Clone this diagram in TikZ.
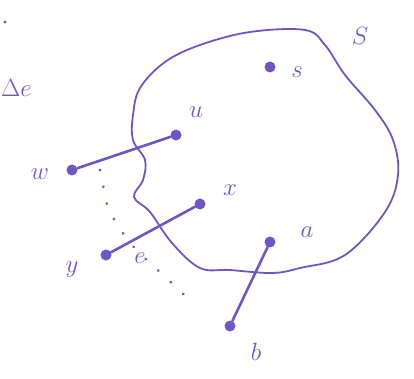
\documentclass[tikz,border=0pt]{standalone}
\begin{document}
\begin{tikzpicture}[x=1pt,y=-1pt,
  vtx/.style={circle,fill=pen,inner sep=0pt,minimum size=11pt},
  lbl/.style={text=pen,font=\fontsize{34}{36}\selectfont,inner sep=0pt},
  edge/.style={draw=pen,line width=2.6pt,line cap=round},
  boundary/.style={draw=pen,line width=1.8pt},
  trace/.style={draw=pen,line width=3pt,line cap=round,dash pattern=on 0.1pt off 17pt}]
\definecolor{pen}{RGB}{112,86,196}
\useasboundingbox (0,0) rectangle (414,379);
% region S
\draw[boundary] plot[smooth cycle,tension=0.6] coordinates {
 (140,88) (165,62) (200,45) (250,32) (305,30) (325,45) (345,75) (375,110)
 (393,140) (398,175) (385,212) (345,255) (300,268) (272,273) (230,270)
 (200,268) (172,243) (150,212) (134,197) (143,180) (145,160) (133,140) (133,115)};
% dotted trace
\draw[trace] plot[smooth,tension=0.6] coordinates {(100,170) (104,190) (110,212) (132,245) (162,274) (192,302)};
% vertices
\node[vtx] (s) at (270,67) {};
\node[vtx] (u) at (176,135) {};
\node[vtx] (w) at (72,170) {};
\node[vtx] (x) at (200,204) {};
\node[vtx] (y) at (106,255) {};
\node[vtx] (a) at (270,242) {};
\node[vtx] (b) at (230,326) {};
% edges
\draw[edge] (w) -- (u);
\draw[edge] (y) -- (x);
\draw[edge] (a) -- (b);
% labels
\node[lbl] (e) at (140,258) {$e$};
\node[lbl] (Sl) at (360,36) {$S$};
\node[lbl] (sl) at (297,72) {$s$};
\node[lbl] (ul) at (196,112) {$u$};
\node[lbl] (wl) at (40,174) {$w$};
\node[lbl] (xl) at (230,190) {$x$};
\node[lbl] (yl) at (72,270) {$y$};
\node[lbl] (al) at (307,232) {$a$};
\node[lbl] (bl) at (256,352) {$b$};
\node[lbl,anchor=west] (de) at (1,88) {$\Delta e$};
\fill[pen] (5,22) circle (1.6pt);
\end{tikzpicture}
\end{document}
